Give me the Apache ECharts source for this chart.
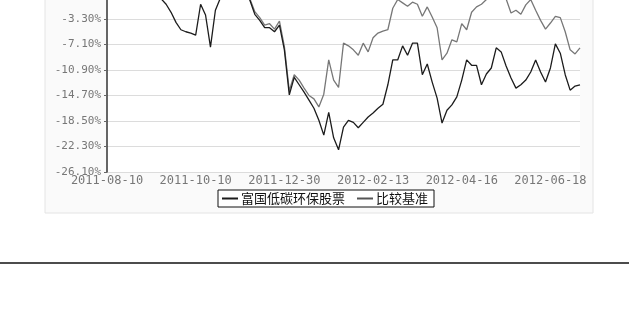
<!DOCTYPE html>
<html>
<head>
<meta charset="utf-8">
<script src="https://cdn.jsdelivr.net/npm/echarts@6/dist/echarts.min.js"></script>
<style>
    html, body { margin: 0; padding: 0; background: #fff; }
    #chartContainer { width: 629px; height: 309px; }
</style>
</head>
<body>
<div id="chartContainer"></div>
<script>
// tick labels on the x axis, one every labelStep trading points
var xLabels = ['2011-08-10', '2011-10-10', '2011-12-30', '2012-02-13', '2012-04-16', '2012-06-18'];
var labelStep = 18;

// y axis (percent)
var yMin = -26.1;
var yMax = 0.5;
var yStep = 3.8;

var seriesNames = ['富国低碳环保股票', '比较基准'];

// fund cumulative return, %
var fundValues = [
    0.0, 0.3, 0.8, 0.2, -0.1, 0.4, 1.0, 0.6, 0.2, 0.5,
    0.3, -0.3, -1.1, -2.3, -3.8, -4.9, -5.2, -5.4, -5.7, -1.1,
    -2.7, -7.5, -2.0, -0.2, 0.5, 0.9, 0.4, 1.2, 0.6, -0.5,
    -2.6, -3.5, -4.6, -4.6, -5.2, -4.2, -7.9, -14.6, -12.0, -13.1,
    -14.2, -15.4, -16.6, -18.4, -20.6, -17.2, -21.0, -22.8, -19.4, -18.4,
    -18.7, -19.5, -18.7, -17.9, -17.3, -16.6, -16.0, -13.1, -9.4, -9.4,
    -7.3, -8.7, -6.9, -6.9, -11.6, -10.0, -12.7, -15.1, -18.8, -16.9,
    -16.1, -14.9, -12.4, -9.4, -10.2, -10.2, -13.1, -11.5, -10.6, -7.6,
    -8.2, -10.3, -12.1, -13.6, -13.1, -12.4, -11.2, -9.4, -11.2, -12.7,
    -10.6, -7.0, -8.4, -11.6, -13.9, -13.3, -13.1
];

// benchmark cumulative return, %
var benchValues = [
    0.0, 0.4, 0.9, 1.3, 0.8, 1.5, 2.0, 1.6, 1.1, 1.8,
    1.4, 0.9, 0.1, -0.2, -0.1, 0.3, 0.0, -0.2, 0.2, 0.8,
    0.5, 0.1, 0.6, 1.0, 1.3, 1.7, 1.2, 1.9, 1.4, -0.3,
    -2.2, -3.1, -4.2, -4.0, -4.8, -3.6, -7.4, -14.0, -11.6, -12.4,
    -13.6, -14.7, -15.2, -16.4, -14.5, -9.4, -12.4, -13.5, -6.9, -7.3,
    -7.9, -8.7, -6.9, -8.2, -6.1, -5.4, -5.1, -4.9, -1.7, -0.4,
    -0.9, -1.4, -0.8, -1.1, -2.9, -1.5, -3.0, -4.6, -9.4, -8.4,
    -6.4, -6.7, -4.0, -4.9, -2.3, -1.5, -1.1, -0.4, -0.2, 0.3,
    0.1, -0.3, -2.4, -2.0, -2.6, -1.2, -0.4, -2.0, -3.5, -4.8,
    -3.9, -2.9, -3.1, -5.2, -7.9, -8.5, -7.6
];

var categories = [];
for (var i = 0; i < fundValues.length; i++) {
    categories.push(String(i));
}

var chart = echarts.init(document.getElementById('chartContainer'), null, { renderer: 'canvas' });

var option = {
    backgroundColor: '#ffffff',
    animation: false,
    graphic: [
        {
            type: 'rect',
            z: -10,
            shape: { x: 45, y: -10, width: 548, height: 223 },
            style: { fill: '#fafafa', stroke: '#e4e4e4', lineWidth: 1 }
        },
        {
            type: 'line',
            shape: { x1: 0, y1: 263, x2: 629, y2: 263 },
            style: { stroke: '#111', lineWidth: 1.5 }
        }
    ],
    grid: {
        left: 107,
        top: -6.5,
        width: 473,
        height: 178.5,
        outerBoundsMode: 'none',
        containLabel: false,
        show: true,
        backgroundColor: '#ffffff',
        borderWidth: 0
    },
    legend: {
        data: seriesNames,
        left: 218,
        top: 190,
        itemWidth: 16,
        itemHeight: 2,
        itemGap: 12,
        icon: 'rect',
        padding: [2, 6, 2, 4],
        borderColor: '#111',
        borderWidth: 1,
        backgroundColor: '#fff',
        textStyle: {
            fontFamily: 'Noto Sans CJK SC',
            fontSize: 13,
            color: '#111',
            padding: [0, 0, 0, -2]
        }
    },
    xAxis: {
        type: 'category',
        boundaryGap: false,
        data: categories,
        axisLine: { lineStyle: { color: '#999', width: 1 } },
        axisTick: { interval: labelStep - 1, inside: true, length: 3, lineStyle: { color: '#999' } },
        axisLabel: {
            interval: labelStep - 1,
            margin: 3,
            fontFamily: 'DejaVu Sans Mono',
            fontSize: 12,
            color: '#777',
            formatter: function (value, idx) {
                return xLabels[idx / labelStep] || '';
            }
        },
        splitLine: { show: false }
    },
    yAxis: {
        type: 'value',
        min: yMin,
        max: yMax,
        interval: yStep,
        axisLine: { show: true, lineStyle: { color: '#333', width: 1.5 } },
        axisTick: { show: true, length: 3, lineStyle: { color: '#666' } },
        axisLabel: {
            margin: 6,
            fontFamily: 'DejaVu Sans Mono',
            fontSize: 11,
            color: '#777',
            formatter: function (v) {
                return v.toFixed(2) + '%';
            }
        },
        splitLine: { lineStyle: { color: '#dcdcdc', width: 1 } }
    },
    series: [
        {
            name: seriesNames[0],
            type: 'line',
            data: fundValues,
            showSymbol: false,
            z: 3,
            itemStyle: { color: '#1c1c1c' },
            lineStyle: { color: '#1c1c1c', width: 1.3 }
        },
        {
            name: seriesNames[1],
            type: 'line',
            data: benchValues,
            showSymbol: false,
            z: 2,
            itemStyle: { color: '#555' },
            lineStyle: { color: '#777', width: 1.3 }
        }
    ]
};

chart.setOption(option);
window.addEventListener('resize', chart.resize);
</script>
</body>
</html>
